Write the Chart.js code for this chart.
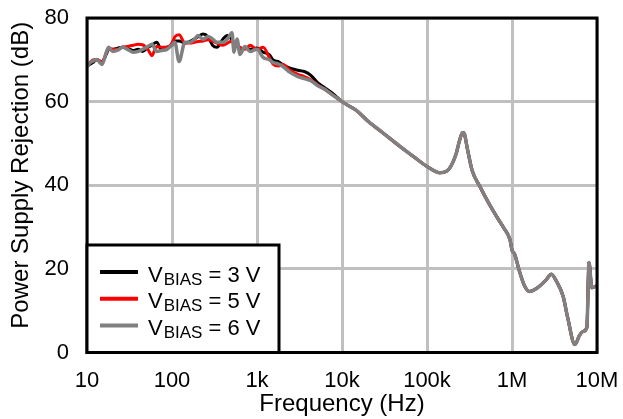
<!DOCTYPE html>
<html>
<head>
<meta charset="utf-8">
<script src="https://cdn.jsdelivr.net/npm/chart.js@4.4.1/dist/chart.umd.min.js"></script>
<style>
    html, body { margin: 0; padding: 0; background: #fff; }
</style>
</head>
<body>
<canvas id="psr-chart" width="623" height="419"></canvas>
<script>
// frequency points (Hz), low band where the three curves differ
const freqLo = [10, 11, 12, 13, 15, 17, 18, 20, 23, 26, 30, 35, 40, 45, 52, 58, 66, 75, 87, 100,
    108, 121, 142, 163, 185, 202, 232, 265, 300, 338, 398, 450, 508, 536, 582, 631, 722, 828, 1000,
    1180, 1400, 1540, 1800, 2020, 2450, 3030, 3600, 4300, 5200, 6200, 7500, 8800];

const psr3V = [68.5, 69, 69.5, 70, 69.5, 71.5, 72.5, 72.5, 72.8, 73, 72.8, 72.2, 72.5, 72, 73, 73.5, 74.2, 72.5, 73, 73.5,
    74.5, 74.5, 74, 74.4, 75, 75.5, 76.2, 75.5, 73.5, 73, 75, 75.8, 74.8, 74.2, 74.2, 72, 73, 72.5, 72.8,
    71.8, 71.2, 70, 69.5, 68.8, 68, 67.5, 67.2, 66.3, 64.5, 63.4, 62.2, 61];

const psr5V = [68.5, 69.5, 70, 70, 69.5, 71.8, 72.8, 72.5, 72.5, 73, 73.2, 73.5, 73.7, 73.6, 72.5, 71, 73.2, 73, 73, 74,
    75.5, 76, 74, 74, 74.2, 74.4, 74.5, 74.8, 74.5, 74, 73.5, 74, 74.5, 73.5, 73.2, 73, 72.5, 73.5, 72.5,
    73, 70.5, 69, 68.5, 68.9, 67.5, 66.5, 66, 65.2, 64, 63, 61.8, 60.8];

const psr6V = [68.5, 69.4, 69.8, 70.1, 68.9, 72, 73, 72, 72.3, 73, 72.5, 71.8, 72, 72.5, 73.2, 73.7, 72, 72.2, 72.5, 73.5,
    74.2, 69.6, 74.2, 74.2, 75, 75.8, 74.9, 75.6, 75, 74.2, 74.2, 75, 76.5, 71.8, 75, 71.3, 73.2, 72, 72.5,
    70.6, 70, 69.4, 69, 68.4, 67, 66, 65.5, 65, 63.8, 63, 61.8, 60.8];

// high band, all three curves overlap
const freqHi = [10000, 12000, 15000, 20000, 30000, 48000, 70000, 100000, 142000, 180000, 220000, 240000, 263000,
    275000, 300000, 340000, 419000, 530000, 660000, 800000, 946000, 1000000, 1080000, 1200000, 1400000, 1600000,
    2000000, 2500000, 2900000, 3300000, 4000000, 4500000, 5500000, 6200000, 6800000, 7600000, 8050000, 8700000, 10000000];
const psrHi = [60, 59, 57.8, 55.4, 52.6, 49.3, 46.8, 44.5, 43, 43.8, 47.5, 50.5, 52.6,
    52.3, 48.5, 43.5, 39.7, 35.8, 32.5, 29.8, 27, 24.5, 23.4, 20, 16, 14.6,
    15.5, 17.3, 18.7, 17.2, 13.4, 8.5, 1.9, 4, 5, 6, 21.5, 15.5, 16];

const xTicks = [10, 100, 1000, 10000, 100000, 1000000, 10000000];
const xTickLabels = ['10', '100', '1k', '10k', '100k', '1M', '10M'];
const yTicks = [0, 20, 40, 60, 80];

const seriesNames = ['3 V', '5 V', '6 V'];
const seriesColors = ['#000000', '#ff0000', '#808080'];

const FONT = "'Liberation Sans', Arial, sans-serif";

function toPoints(lo) {
    let pts = freqLo.map((f, i) => ({x: f, y: lo[i]}));
    return pts.concat(freqHi.map((f, i) => ({x: f, y: psrHi[i]})));
}

// black frame round the plot area
const framePlugin = {
    id: 'frame',
    afterDatasetsDraw(chart) {
        const {ctx, chartArea: a} = chart;
        ctx.save();
        ctx.strokeStyle = '#000';
        ctx.lineWidth = 3;
        ctx.strokeRect(a.left, a.top, a.right - a.left, a.bottom - a.top);
        ctx.restore();
    }
};

// boxed legend with subscript text
const legendPlugin = {
    id: 'boxLegend',
    afterDraw(chart) {
        const {ctx, chartArea: a} = chart;
        const left = a.left, right = 279, top = 245, bottom = a.bottom;
        ctx.save();
        ctx.fillStyle = '#fff';
        ctx.fillRect(left, top, right - left, bottom - top);
        ctx.strokeStyle = '#000';
        ctx.lineWidth = 3;
        ctx.strokeRect(left, top, right - left, bottom - top);

        seriesNames.forEach((name, i) => {
            const base = 281.5 + i * 26.7;
            ctx.strokeStyle = seriesColors[i];
            ctx.lineWidth = 4;
            ctx.beginPath();
            ctx.moveTo(100, base - 9.5);
            ctx.lineTo(138, base - 9.5);
            ctx.stroke();

            ctx.fillStyle = '#000';
            ctx.textBaseline = 'alphabetic';
            ctx.textAlign = 'left';
            ctx.font = '22px ' + FONT;
            ctx.fillText('V', 148, base);
            let x = 148 + ctx.measureText('V').width + 1;
            ctx.font = '17px ' + FONT;
            ctx.fillText('BIAS', x, base + 3);
            x += ctx.measureText('BIAS').width;
            ctx.font = '22px ' + FONT;
            ctx.fillText(' = ' + name, x, base);
        });
        ctx.restore();
    }
};

const datasets = [
    {label: 'VBIAS = 6 V', data: toPoints(psr6V), borderColor: seriesColors[2], borderWidth: 3.5},
    {label: 'VBIAS = 5 V', data: toPoints(psr5V), borderColor: seriesColors[1], borderWidth: 3},
    {label: 'VBIAS = 3 V', data: toPoints(psr3V), borderColor: seriesColors[0], borderWidth: 3}
].map(d => Object.assign(d, {
    pointRadius: 0,
    fill: false,
    cubicInterpolationMode: 'monotone',
    borderJoinStyle: 'round'
}));

new Chart(document.getElementById('psr-chart'), {
    type: 'line',
    data: {datasets: datasets},
    options: {
        responsive: false,
        animation: false,
        events: [],
        layout: {padding: {top: 18, right: 26, bottom: 0, left: 0}},
        plugins: {legend: {display: false}, tooltip: {enabled: false}},
        scales: {
            x: {
                type: 'logarithmic',
                min: 10,
                max: 10000000,
                afterBuildTicks: s => { s.ticks = xTicks.map(v => ({value: v})); },
                afterFit: s => {
                    s.height = 66.5;
                    s.paddingLeft = 0;
                    s.paddingRight = 0;
                },
                border: {display: false},
                grid: {color: '#c0c0c0', lineWidth: 3, drawTicks: false},
                ticks: {
                    autoSkip: false,
                    maxRotation: 0,
                    padding: 15,
                    color: '#000',
                    font: {family: FONT, size: 22},
                    callback: (v, i) => xTickLabels[i]
                },
                title: {
                    display: true,
                    text: 'Frequency (Hz)',
                    color: '#000',
                    font: {family: FONT, size: 24},
                    padding: {top: 0, bottom: 0}
                }
            },
            y: {
                min: 0,
                max: 80,
                afterBuildTicks: s => { s.ticks = yTicks.map(v => ({value: v})); },
                afterFit: s => {
                    s.width = 87;
                    s.paddingTop = 0;
                    s.paddingBottom = 0;
                },
                border: {display: false},
                grid: {color: '#c0c0c0', lineWidth: 3, drawTicks: false},
                ticks: {
                    padding: 18,
                    color: '#000',
                    font: {family: FONT, size: 22}
                },
                title: {
                    display: true,
                    text: '\u00a0\u00a0\u00a0Power Supply Rejection (dB)',
                    color: '#000',
                    font: {family: FONT, size: 24},
                    padding: {top: 7, bottom: 0}
                }
            }
        }
    },
    plugins: [framePlugin, legendPlugin]
});
</script>
</body>
</html>
